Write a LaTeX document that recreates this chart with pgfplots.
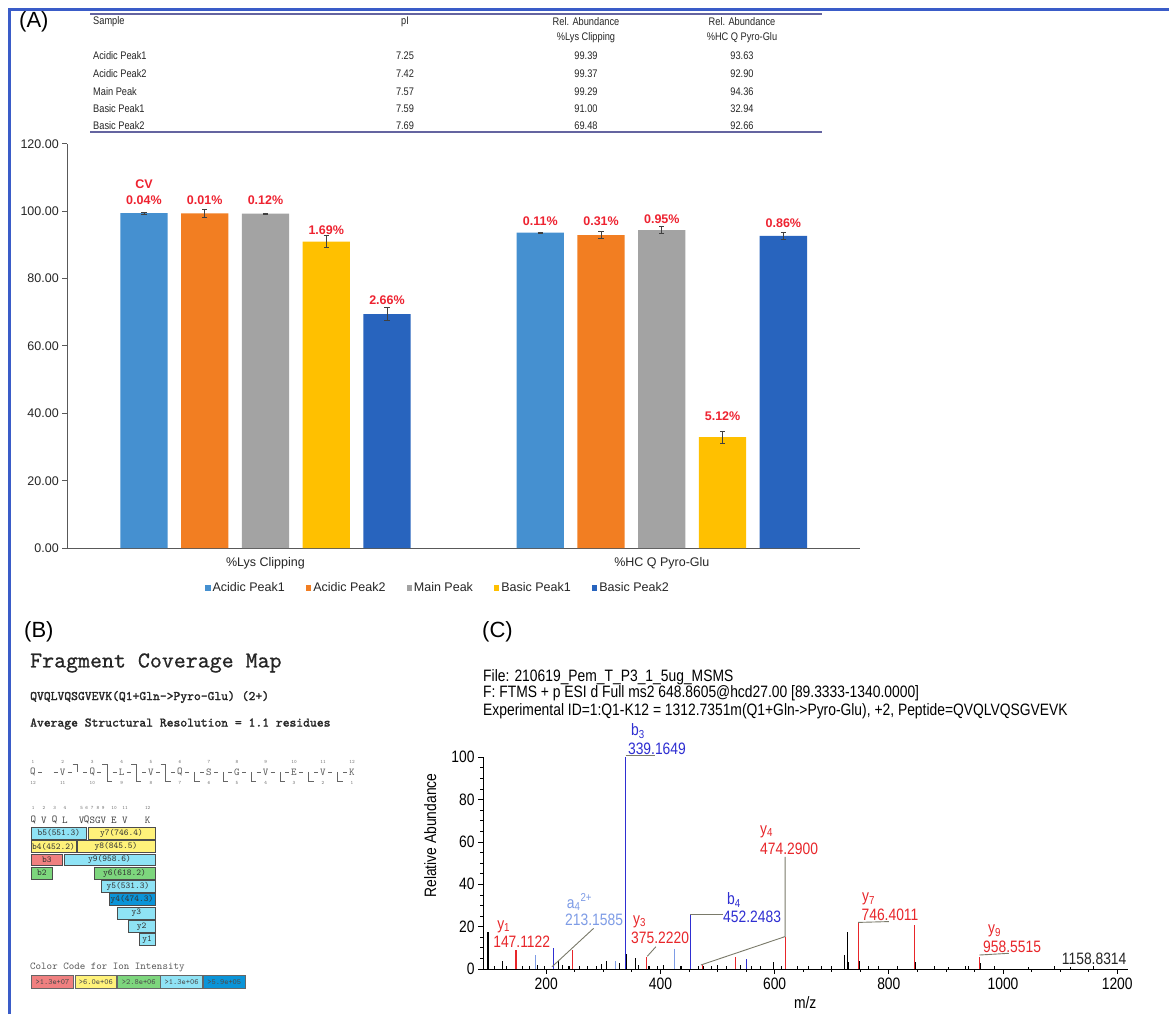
\documentclass[border=0pt]{standalone}
\usepackage{fontspec}
\setmainfont{Liberation Sans}
\newfontfamily\narrow[FakeStretch=0.84]{Liberation Sans}
\newfontfamily\ttb[FakeBold=1.6]{lmmono10-regular.otf}
\newfontfamily\tttitle[FakeBold=0.6]{lmmono10-regular.otf}
\usepackage{pgfplots}
\pgfplotsset{compat=1.18}
\definecolor{cA1}{HTML}{4590D0}
\definecolor{cA2}{HTML}{F27E22}
\definecolor{cMP}{HTML}{A3A3A3}
\definecolor{cB1}{HTML}{FFC000}
\definecolor{cB2}{HTML}{2864BE}
\definecolor{lblred}{HTML}{EE2230}
\definecolor{tabline}{HTML}{6464A0}
\definecolor{frameblue}{HTML}{3A5CC8}
\definecolor{axgray}{HTML}{595959}
\definecolor{specred}{HTML}{E8262A}
\definecolor{specblue}{HTML}{2F2FD2}
\definecolor{speclblue}{HTML}{7E9CE6}
\definecolor{leader}{HTML}{7A7A6A}
\definecolor{cyanbox}{HTML}{8FE3F5}
\definecolor{yelbox}{HTML}{FFF27A}
\definecolor{pinkbox}{HTML}{F08080}
\definecolor{grnbox}{HTML}{7DD67D}
\definecolor{dblbox}{HTML}{0A94D8}
\newcommand\fA{\fontsize{12.5}{14}\selectfont}
\newcommand\fC{\narrow\fontsize{16.5}{18}\selectfont}
\newcommand\fT{\narrow\fontsize{11}{13}\selectfont}
\newcommand\fBox{\ttfamily\fontsize{9}{10}\selectfont}
\pgfplotsset{
  errstyle/.style={error bars/.cd, y dir=both, y explicit,
    error bar style={line width=0.8pt, black!75},
    error mark options={rotate=90, mark size=2.6pt, line width=0.8pt, black!75}},
}
\begin{document}
\begin{tikzpicture}
\path[use as bounding box] (0pt,0pt) rectangle (1169pt,1014pt);
\fill[white] (0pt,0pt) rectangle (1169pt,1014pt);
\draw[frameblue, line width=2.5pt] (9.5pt,0pt) -- (9.5pt,1004.5pt) -- (1169pt,1004.5pt);

\begin{scope}[x=1pt, y=1pt, shift={(0pt,1014pt)}, yscale=-1]
 \node[anchor=west, font=\fontsize{22}{24}\selectfont, inner sep=0] at (19,22) {(A)};
 \node[anchor=west, font=\fontsize{22}{24}\selectfont, inner sep=0] at (24,632) {(B)};
 \node[anchor=west, font=\fontsize{22}{24}\selectfont, inner sep=0] at (482,632) {(C)};
 % table
 \draw[tabline, line width=2pt] (90,14) -- (822,14);
 \draw[tabline, line width=2pt] (90,132) -- (822,132);
 \begin{scope}[every node/.style={font=\fT, inner sep=0, text=black!85}]
 \node[anchor=west] at (93,22) {Sample};
 \node at (405,22) {pI};
 \node at (586,22) {Rel. Abundance};
 \node at (586,38) {\%Lys Clipping};
 \node at (742,22) {Rel. Abundance};
 \node at (742,38) {\%HC Q Pyro-Glu};
 \node[anchor=west] at (93,56) {Acidic Peak1};
 \node[anchor=west] at (93,74) {Acidic Peak2};
 \node[anchor=west] at (93,92) {Main Peak};
 \node[anchor=west] at (93,109) {Basic Peak1};
 \node[anchor=west] at (93,126) {Basic Peak2};
 \node at (405,56) {7.25}; \node at (586,56) {99.39}; \node at (742,56) {93.63};
 \node at (405,74) {7.42}; \node at (586,74) {99.37}; \node at (742,74) {92.90};
 \node at (405,92) {7.57}; \node at (586,92) {99.29}; \node at (742,92) {94.36};
 \node at (405,109) {7.59}; \node at (586,109) {91.00}; \node at (742,109) {32.94};
 \node at (405,126) {7.69}; \node at (586,126) {69.48}; \node at (742,126) {92.66};
 \end{scope}
 % panel C header
 \node[anchor=west, font=\fC, inner sep=0] at (483,677) {File: 210619\_Pem\_T\_P3\_1\_5ug\_MSMS};
 \node[anchor=west, font=\fC, inner sep=0] at (483,693) {F: FTMS + p ESI d Full ms2 648.8605@hcd27.00 [89.3333-1340.0000]};
 \node[anchor=west, font=\fC, inner sep=0] at (483,711) {Experimental ID=1:Q1-K12 = 1312.7351m(Q1+Gln->Pyro-Glu), +2, Peptide=QVQLVQSGVEVK};
\end{scope}

% ---------------- Panel A bar chart
\begin{axis}[
  at={(67.3pt,465.8pt)}, anchor=south west, scale only axis,
  width=792.7pt, height=404.4pt,
  xmin=0, xmax=2, ymin=0, ymax=120,
  axis x line=bottom, axis y line=left,
  axis line style={-, draw=axgray, line width=1.3pt},
  xtick=\empty, ytick={0,20,...,120},
  tick align=outside, major tick length=5pt,
  ytick style={draw=axgray, line width=1pt},
  /pgf/number format/assume math mode=true,
  yticklabel style={/pgf/number format/fixed, /pgf/number format/fixed zerofill, /pgf/number format/precision=2, font=\fA, text=black!85},
  clip=false,
  legend columns=5,
  legend style={at={(0.1737,-0.0984)}, anchor=west, draw=none, fill=none, inner sep=0pt, font=\fA, text=black!85, /tikz/every even column/.append style={column sep=19pt}},
  legend image code/.code={\fill[#1] (0pt,-2.7pt) rectangle (5.4pt,2.7pt);},
]
\addplot[ybar, bar width=47.3pt, bar shift=0pt, fill=cA1, draw=none, errstyle]
  coordinates {(0.1934,99.39) +- (0,0.2) (1.1934,93.63) +- (0,0.2)};
\addplot[ybar, bar width=47.3pt, bar shift=0pt, fill=cA2, draw=none, errstyle]
  coordinates {(0.3467,99.37) +- (0,1.2) (1.3467,92.90) +- (0,1.1)};
\addplot[ybar, bar width=47.3pt, bar shift=0pt, fill=cMP, draw=none, errstyle]
  coordinates {(0.5,99.29) +- (0,0.2) (1.5,94.36) +- (0,1.0)};
\addplot[ybar, bar width=47.3pt, bar shift=0pt, fill=cB1, draw=none, errstyle]
  coordinates {(0.6533,91.00) +- (0,1.7) (1.6533,32.94) +- (0,1.8)};
\addplot[ybar, bar width=47.3pt, bar shift=0pt, fill=cB2, draw=none, errstyle]
  coordinates {(0.8066,69.48) +- (0,1.9) (1.8066,92.66) +- (0,0.9)};
\legend{Acidic Peak1, Acidic Peak2, Main Peak, Basic Peak1, Basic Peak2}
\begin{scope}[every node/.style={font=\fA\bfseries, text=lblred, inner sep=0}]
\node at (axis cs:0.1934,108.1) {CV};
\node at (axis cs:0.1934,103.4) {0.04\%};
\node at (axis cs:0.3467,103.4) {0.01\%};
\node at (axis cs:0.5,103.4) {0.12\%};
\node at (axis cs:0.6533,94.3) {1.69\%};
\node at (axis cs:0.8066,73.5) {2.66\%};
\node at (axis cs:1.1934,97.0) {0.11\%};
\node at (axis cs:1.3467,97.0) {0.31\%};
\node at (axis cs:1.5,97.7) {0.95\%};
\node at (axis cs:1.6533,39.2) {5.12\%};
\node at (axis cs:1.8066,96.4) {0.86\%};
\end{scope}
\node[font=\fA, text=black!85] at (axis cs:0.5,-4.4) {\%Lys Clipping};
\node[font=\fA, text=black!85] at (axis cs:1.5,-4.4) {\%HC Q Pyro-Glu};
\end{axis}

% ---------------- Panel B coverage map
\begin{axis}[at={(20pt,9pt)}, anchor=south west, scale only axis, width=360pt, height=260pt,
  xmin=20, xmax=380, ymin=745, ymax=1005, y dir=reverse, hide axis, clip=false]
\addplot[draw=none] coordinates {(20,745)};
\node[anchor=west, inner sep=0, font=\tttitle\fontsize{22.8}{24}\selectfont, text=black!85] at (30,663) {Fragment Coverage Map};
\node[anchor=west, inner sep=0, font=\ttb\fontsize{13}{15}\selectfont, text=black!85] at (30,697) {QVQLVQSGVEVK(Q1+Gln->Pyro-Glu) (2+)};
\node[anchor=west, inner sep=0, font=\ttb\fontsize{13}{15}\selectfont, text=black!85] at (30,724) {Average Structural Resolution = 1.1 residues};
% sequence line
\begin{scope}[every node/.style={font=\ttfamily\fontsize{10.5}{11}\selectfont, text=black!65, inner sep=0}]
\node at (33,772) {Q}; \node at (62.7,772) {V}; \node at (92.3,772) {Q}; \node at (121.7,772) {L};
\node at (151,772) {V}; \node at (180,772) {Q}; \node at (209,772) {S}; \node at (237,772) {G};
\node at (265.7,772) {V}; \node at (294,772) {E}; \node at (323,772) {V}; \node at (352,772) {K};
\end{scope}
\begin{scope}[every node/.style={font=\ttfamily\fontsize{5}{6}\selectfont, text=black!55, inner sep=0}]
\node at (33,762) {1}; \node at (62.7,762) {2}; \node at (92.3,762) {3}; \node at (121.7,762) {4};
\node at (151,762) {5}; \node at (180,762) {6}; \node at (209,762) {7}; \node at (237,762) {8};
\node at (265.7,762) {9}; \node at (294,762) {10}; \node at (323,762) {11}; \node at (352,762) {12};
\node at (33,783) {12}; \node at (62.7,783) {11}; \node at (92.3,783) {10}; \node at (121.7,783) {9};
\node at (151,783) {8}; \node at (180,783) {7}; \node at (209,783) {6}; \node at (237,783) {5};
\node at (265.7,783) {4}; \node at (294,783) {3}; \node at (323,783) {2}; \node at (352,783) {1};
\node at (33.3,808) {1}; \node at (44,808) {2}; \node at (54.7,808) {3}; \node at (65,808) {4};
\node at (81.7,808) {5}; \node at (86.7,808) {6}; \node at (92.3,808) {7}; \node at (98,808) {8};
\node at (103.3,808) {9}; \node at (114,808) {10}; \node at (125,808) {11}; \node at (147.7,808) {12};
\end{scope}
\begin{scope}[black!60, line width=0.6pt]
\draw (38,772)--(42,772); \draw (53.7,772)--(57.7,772); \draw (67.7,772)--(71.7,772);
\draw (83.3,772)--(87.3,772); \draw (97.3,772)--(101.3,772); \draw (112.7,772)--(116.7,772);
\draw (126.7,772)--(130.7,772); \draw (142,772)--(146,772); \draw (156,772)--(160,772);
\draw (171,772)--(175,772); \draw (185,772)--(189,772); \draw (200,772)--(204,772);
\draw (214,772)--(218,772); \draw (228,772)--(232,772); \draw (242,772)--(246,772);
\draw (256.7,772)--(260.7,772); \draw (270.7,772)--(274.7,772); \draw (285,772)--(289,772);
\draw (299,772)--(303,772); \draw (314,772)--(318,772); \draw (328,772)--(332,772); \draw (343,772)--(347,772);
\draw (72.5,764)--(77.5,764)--(77.5,772);
\draw (102,764)--(107,764)--(107,781)--(112,781);
\draw (131.35,764)--(136.35,764)--(136.35,781)--(141.35,781);
\draw (160.5,764)--(165.5,764)--(165.5,781)--(170.5,781);
\draw (194.5,772)--(194.5,781)--(199.5,781);
\draw (223,772)--(223,781)--(228,781);
\draw (251.35,772)--(251.35,781)--(256.35,781);
\draw (279.85,772)--(279.85,781)--(284.85,781);
\draw (308.5,772)--(308.5,781)--(313.5,781);
\draw (337.5,772)--(337.5,781)--(342.5,781);
\end{scope}
% coverage residues
\begin{scope}[every node/.style={font=\ttfamily\fontsize{10.5}{12}\selectfont, text=black!75, inner sep=0}]
\node at (33.3,820) {Q}; \node at (44,820) {V}; \node at (54.7,820) {Q}; \node at (65,820) {L};
\node at (81.7,820) {V}; \node at (86.7,820) {Q}; \node at (92.3,820) {S}; \node at (98,820) {G};
\node at (103.3,820) {V}; \node at (114,820) {E}; \node at (125,820) {V}; \node at (147.7,820) {K};
\end{scope}
% coverage boxes
\begin{scope}[draw=black!70, line width=0.7pt]
\draw[fill=cyanbox] (31,827.3) rectangle (86.7,839.1);
\draw[fill=yelbox] (88,827.3) rectangle (155,839.1);
\draw[fill=yelbox] (31,840.6) rectangle (76,852.4);
\draw[fill=yelbox] (77,840.6) rectangle (155,852.4);
\draw[fill=pinkbox] (31,853.9) rectangle (62.7,865.7);
\draw[fill=cyanbox] (64,853.9) rectangle (155,865.7);
\draw[fill=grnbox] (31,867.2) rectangle (52.7,879);
\draw[fill=grnbox] (94,867.2) rectangle (155,879);
\draw[fill=cyanbox] (101,880.5) rectangle (155,892.3);
\draw[fill=dblbox] (109,893.8) rectangle (155,905.6);
\draw[fill=cyanbox] (117.7,907.1) rectangle (155,918.9);
\draw[fill=cyanbox] (128.3,920.4) rectangle (155,932.2);
\draw[fill=cyanbox] (139.3,933.7) rectangle (155,945.5);
\end{scope}
\begin{scope}[every node/.style={font=\fBox, text=black!80, inner sep=0}]
\node at (58.85,833.2) {b5(551.3)};
\node at (121.5,833.2) {y7(746.4)};
\node at (53.5,846.5) {b4(452.2)};
\node at (116,846.5) {y8(845.5)};
\node at (46.85,859.8) {b3};
\node at (109.5,859.8) {y9(958.6)};
\node at (41.85,873.1) {b2};
\node at (124.5,873.1) {y6(618.2)};
\node at (128,886.4) {y5(531.3)};
\node at (132,899.7) {y4(474.3)};
\node at (136.35,913) {y3};
\node at (141.65,926.3) {y2};
\node at (147.15,939.6) {y1};
\end{scope}
% colour code
\node[anchor=west, inner sep=0, font=\ttfamily\fontsize{10.5}{12}\selectfont, text=black!65] at (30,967) {Color Code for Ion Intensity};
\begin{scope}[draw=black!60, line width=0.7pt]
\draw[fill=pinkbox] (31.7,975) rectangle (73.3,988.3);
\draw[fill=yelbox] (75,975) rectangle (116.7,988.3);
\draw[fill=grnbox] (117.5,975) rectangle (160,988.3);
\draw[fill=cyanbox] (160.7,975) rectangle (202.7,988.3);
\draw[fill=dblbox] (203.5,975) rectangle (245,988.3);
\end{scope}
\begin{scope}[every node/.style={font=\ttfamily\fontsize{8}{9}\selectfont, text=black!70, inner sep=0}]
\node at (52.5,981.7) {>1.3e+07};
\node at (95.85,981.7) {>6.0e+06};
\node at (138.75,981.7) {>2.8e+06};
\node at (181.7,981.7) {>1.3e+06};
\node at (224.25,981.7) {>5.9e+05};
\end{scope}
\end{axis}

% ---------------- Panel C spectrum
\begin{axis}[
  at={(483pt,45pt)}, anchor=south west, scale only axis,
  width=644.5pt, height=211.7pt,
  xmin=89.33, xmax=1218, ymin=0, ymax=100,
  axis x line=bottom, axis y line=left,
  axis line style={-, black, line width=0.9pt},
  tick align=outside,
  xtick={200,400,...,1200}, minor x tick num=3,
  ytick={0,20,...,100}, minor y tick num=3,
  major tick length=5pt, minor tick length=3pt,
  tick style={black, line width=0.8pt},
  /pgf/number format/assume math mode=true,
  /pgf/number format/1000 sep={},
  ticklabel style={font=\fC},
  xlabel={m/z}, ylabel={Relative Abundance},
  label style={font=\fC},
  ylabel style={at={(axis description cs:-0.082,0.63)}, anchor=center},
  clip=false,
]
\addplot[ycomb, draw=black, line width=1.1pt, no marks] coordinates {
(98,17.5) (110,1.2) (123,4) (131,1.5) (158,1.5) (171,1.2) (185,1.8) (197,1.2) (221,4) (228,2)
(240,1.5) (258,1.2) (272,1.5) (288,1.3) (297,2.5) (306,3.8) (329,3) (341,7) (357,5) (362,2)
(380,1.5) (395,1.2) (405,2) (436,1.5) (466,1.2) (476,1.5) (490,1.3) (500,2) (515,1.2) (541,2)
(560,1.5) (575,1.2) (598,3.2) (612,1.3) (640,1.2) (660,1.5) (682,1.2) (700,1.2) (723,6.6) (727,17.6)
(730,3.5) (748,4) (765,1.2) (782,1.5) (815,1.3) (847,3.5) (880,1.2) (905,1) (935,1.5) (940,1.5)
(960,2.8) (985,1.2) (1045,1) (1090,1.2) (1118,1) (1159,1.3)};
\addplot[ycomb, draw=speclblue, line width=1.1pt, no marks] coordinates {(182,6.5) (321,4) (424,9.3)};
\addplot[ycomb, draw=specblue, line width=1.1pt, no marks] coordinates {(213.16,10) (339.16,100) (452.25,25.5) (551.3,4.5)};
\addplot[ycomb, draw=specred, line width=1.1pt, no marks] coordinates {(147.11,9) (246.18,9) (375.22,5.5) (474.29,2) (531.3,5.5) (618.3,15.3) (746.40,21.9) (845.47,21) (958.55,5.8)};
\begin{scope}[leader, line width=0.9pt]
\draw (axis cs:339.16,101) -- (axis cs:390,101);
\draw (axis cs:210,1) -- (axis cs:283,19.2);
\draw (axis cs:377,6) -- (axis cs:392,10.5);
\draw (axis cs:452.25,26) -- (axis cs:509,26);
\draw (axis cs:471,1.9) -- (axis cs:618.3,15.3) -- (axis cs:618.3,53);
\draw (axis cs:746.4,22) -- (axis cs:800,22.4);
\draw (axis cs:958.55,6.6) -- (axis cs:1010,7.4);
\end{scope}
\begin{scope}[every node/.style={font=\fC, inner sep=0, anchor=west}]
\node[text=specblue] at (axis cs:348.5,112.5) {b\textsubscript{3}};
\node[text=specblue] at (axis cs:343,104) {339.1649};
\node[text=speclblue] at (axis cs:236,31.5) {a\textsubscript{4}\textsuperscript{2+}};
\node[text=speclblue] at (axis cs:233,23) {213.1585};
\node[text=specred] at (axis cs:114,20) {y\textsubscript{1}};
\node[text=specred] at (axis cs:107,12.8) {147.1122};
\node[text=specred] at (axis cs:352,22.5) {y\textsubscript{3}};
\node[text=specred] at (axis cs:348.5,14.6) {375.2220};
\node[text=specblue] at (axis cs:516.6,32.5) {b\textsubscript{4}};
\node[text=specblue] at (axis cs:509.6,24.6) {452.2483};
\node[text=specred] at (axis cs:574.4,65) {y\textsubscript{4}};
\node[text=specred] at (axis cs:574.4,57) {474.2900};
\node[text=specred] at (axis cs:753,33) {y\textsubscript{7}};
\node[text=specred] at (axis cs:752,25.5) {746.4011};
\node[text=specred] at (axis cs:973.7,18) {y\textsubscript{9}};
\node[text=specred] at (axis cs:965,10.5) {958.5515};
\node[text=black!85] at (axis cs:1102.8,4.7) {1158.8314};
\end{scope}
\end{axis}
\end{tikzpicture}
\end{document}
